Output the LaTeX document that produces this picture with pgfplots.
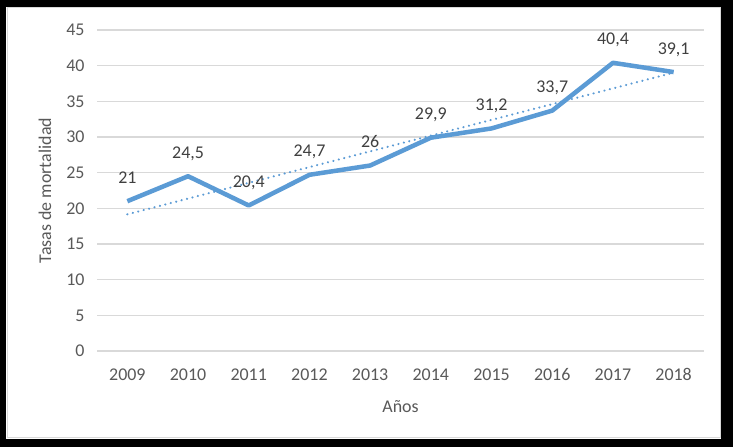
\documentclass[border=0pt]{standalone}
\usepackage{pgfplots}
\pgfplotsset{compat=1.18}
\usepackage{fontspec}
\setmainfont{Carlito}
\definecolor{serie}{HTML}{5B9BD5}
\definecolor{rejilla}{HTML}{D9D9D9}
\definecolor{txtgris}{HTML}{595959}
\definecolor{etiq}{HTML}{404040}

\begin{document}
\begin{tikzpicture}[x=1bp,y=1bp]
    % marco negro de la imagen
    \fill[black] (0,0) rectangle (733,447);
    \fill[white] (6,8) rectangle (721,440);
    \draw[rejilla, line width=1bp] (7,9) rectangle (720,439);
    \begin{axis}[
        at={(97bp,96bp)}, anchor=south west,
        scale only axis,
        width=607bp, height=321bp,
        xmin=2008.5, xmax=2018.5,
        ymin=0, ymax=45,
        xtick={2009,...,2018},
        ytick={0,5,...,45},
        ymajorgrids,
        major grid style={rejilla, line width=1.3bp},
        axis line style={draw=none},
        tick style={draw=none},
        font=\fontsize{18}{21}\selectfont,
        ticklabel style={txtgris},
        /pgf/number format/assume math mode=true,
        /pgf/number format/1000 sep={},
        xticklabel style={yshift=-14bp},
        yticklabel style={xshift=-9bp},
        xlabel={Años},
        ylabel={Tasas de mortalidad},
        label style={txtgris},
        xlabel style={at={(axis description cs:0.5,-0.1745)}, anchor=center},
        ylabel style={at={(axis description cs:-0.0857,0.5)}, anchor=center},
    ]
    \addplot[serie, line width=4.5bp, line join=round,
        nodes near coords,
        every node near coord/.append style={etiq, anchor=base, yshift=18bp,
            /pgf/number format/use comma, /pgf/number format/assume math mode=true},
    ] coordinates {
        (2009,21) (2010,24.5) (2011,20.4) (2012,24.7) (2013,26)
        (2014,29.9) (2015,31.2) (2016,33.7) (2017,40.4) (2018,39.1)
    };
    % linea de tendencia lineal
    \addplot[serie, line width=2.3bp, line cap=round,
        dash pattern=on 0.1bp off 5.5bp]
        coordinates {(2009,19.16) (2018,39.02)};
    \end{axis}
\end{tikzpicture}
\end{document}
